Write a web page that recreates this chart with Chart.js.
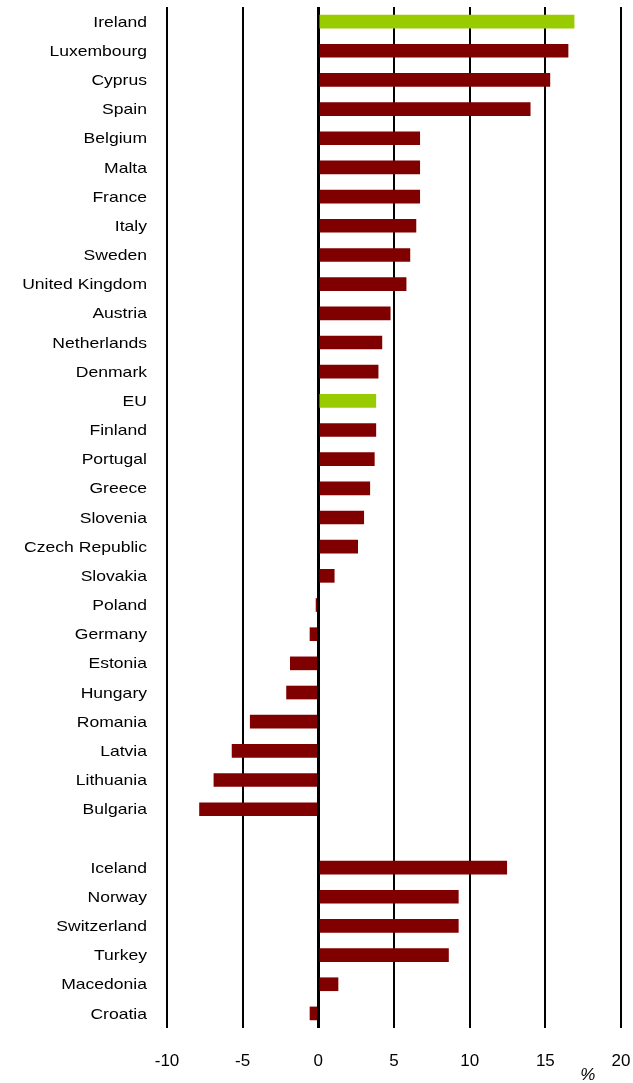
<!DOCTYPE html>
<html>
<head>
<meta charset="utf-8">
<script src="https://cdn.jsdelivr.net/npm/chart.js@4/dist/chart.umd.min.js"></script>
<style>
  html, body { margin: 0; padding: 0; background: #ffffff; }
  #wrap { width: 633px; height: 1083px; }
</style>
</head>
<body>
<div id="wrap"><canvas id="c" width="633" height="1083"></canvas></div>
<script>
const categories = ["Ireland","Luxembourg","Cyprus","Spain","Belgium","Malta","France","Italy","Sweden","United Kingdom","Austria","Netherlands","Denmark","EU","Finland","Portugal","Greece","Slovenia","Czech Republic","Slovakia","Poland","Germany","Estonia","Hungary","Romania","Latvia","Lithuania","Bulgaria","","Iceland","Norway","Switzerland","Turkey","Macedonia","Croatia"];
const values = [16.9,16.5,15.3,14.0,6.7,6.7,6.7,6.45,6.05,5.8,4.75,4.2,3.95,3.8,3.8,3.7,3.4,3.0,2.6,1.05,-0.15,-0.55,-1.85,-2.1,-4.5,-5.7,-6.9,-7.85,null,12.45,9.25,9.25,8.6,1.3,-0.55];
const highlight = ["Ireland","EU"];
const xTicks = [-10,-5,0,5,10,15,20];
const unitLabel = "%";

const RED = "#800000";
const GREEN = "#99cc00";
const FONT = "'Liberation Sans', Arial, sans-serif";

const labelPlugin = {
  id: "stretchedLabels",
  afterDraw(chart) {
    const ctx = chart.ctx;
    const ys = chart.scales.y;
    const xs = chart.scales.x;
    ctx.save();
    ctx.fillStyle = "#000";
    ctx.font = "15px " + FONT;
    ctx.textAlign = "right";
    ctx.textBaseline = "middle";
    categories.forEach((lab, i) => {
      if (!lab) return;
      const y = ys.getPixelForValue(i);
      ctx.save();
      ctx.translate(ys.right - 20, y + 1);
      ctx.scale(1.17, 1);
      ctx.fillText(lab, 0, 0);
      ctx.restore();
    });
    // unit label
    ctx.font = "italic 17px " + FONT;
    ctx.textAlign = "center";
    ctx.textBaseline = "middle";
    ctx.fillText(unitLabel, xs.getPixelForValue(17.8), xs.bottom - 8);
    ctx.restore();
  }
};

new Chart(document.getElementById("c"), {
  type: "bar",
  data: {
    labels: categories,
    datasets: [{
      data: values,
      backgroundColor: categories.map(c => highlight.includes(c) ? GREEN : RED),
      borderWidth: 0,
      barThickness: 13
    }]
  },
  options: {
    indexAxis: "y",
    responsive: false,
    animation: false,
    layout: { padding: { top: 7, right: 12, left: 0, bottom: 0 } },
    plugins: { legend: { display: false }, tooltip: { enabled: false } },
    scales: {
      x: {
        min: -10, max: 20,
        z: 1,
        afterBuildTicks(scale) { scale.ticks = xTicks.map(v => ({ value: v })); },
        afterFit(scale) { scale.height = 55; scale.paddingRight = 0; scale.paddingLeft = 0; },
        grid: {
          color: "#000",
          lineWidth: (c) => (c.tick && c.tick.value === 0) ? 3 : 2,
          drawTicks: false
        },
        border: { display: false },
        ticks: {
          color: "#000",
          font: { family: FONT, size: 17 },
          padding: 23,
          maxRotation: 0
        }
      },
      y: {
        afterFit(scale) { scale.width = 167; },
        grid: { display: false },
        border: { display: false },
        ticks: { display: false }
      }
    }
  },
  plugins: [labelPlugin]
});
</script>
</body>
</html>
